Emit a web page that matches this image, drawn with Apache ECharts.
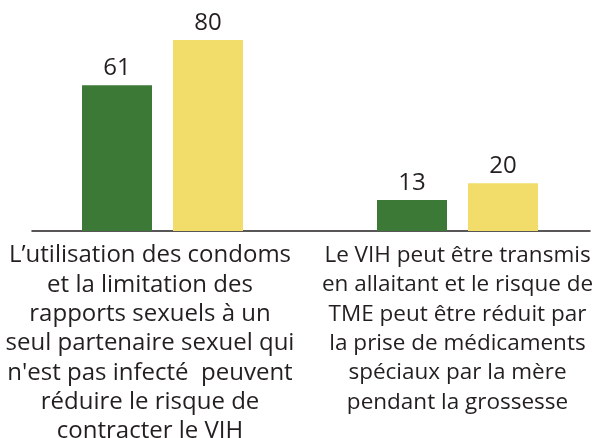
<!DOCTYPE html>
<html>
<head>
    <meta charset="utf-8">
    <title>VIH</title>
    <script src="https://cdn.jsdelivr.net/npm/echarts@6/dist/echarts.min.js"></script>
    <style>
        html, body {margin: 0; padding: 0; background: #fff;}
    </style>
</head>
<body>
<div id="main" style="width: 613px;height:438px;"></div>

<script>
    // categories (axis labels, already wrapped like the original)
    var categories = [
        "L\u2019utilisation des condoms\net la limitation des\nrapports sexuels à un\nseul partenaire sexuel qui\nn'est pas infecté  peuvent\nréduire le risque de\ncontracter le VIH",
        "Le VIH peut être transmis\nen allaitant et le risque de\nTME peut être réduit par\nla prise de médicaments\nspéciaux par la mère\npendant la grossesse"
    ];
    var greenValues = [61, 13];
    var yellowValues = [80, 20];

    var myChart = echarts.init(document.getElementById('main'));

    var labelFont = {
        show: true,
        position: 'top',
        distance: 5,
        color: '#231f20',
        fontFamily: 'Open Sans',
        fontSize: 24
    };

    // first label sits a little left of its bars in the original,
    // the second one is set a bit tighter
    var axisData = [
        {value: categories[0], textStyle: {padding: [0, 25, 0, 0]}},
        {value: categories[1], textStyle: {fontSize: 22.5}}
    ];

    var option = {
        animation: false,
        grid: [
            // bars
            {left: 15, right: 8, top: 40, bottom: 207, outerBoundsMode: 'none', containLabel: false},
            // only the baseline
            {left: 32, right: 23, top: 40, bottom: 207, outerBoundsMode: 'none', containLabel: false}
        ],
        xAxis: [
            {
                type: 'category',
                gridIndex: 0,
                data: axisData,
                axisLine: {show: false},
                axisTick: {show: false},
                axisLabel: {
                    interval: 0,
                    margin: 10,
                    color: '#231f20',
                    fontFamily: 'Open Sans',
                    fontSize: 24,
                    lineHeight: 29.3
                }
            },
            {
                type: 'category',
                gridIndex: 1,
                data: ['', ''],
                axisLine: {show: true, lineStyle: {color: '#231f20', width: 1.5}},
                axisTick: {show: false},
                axisLabel: {show: false}
            }
        ],
        yAxis: [
            {type: 'value', gridIndex: 0, min: 0, max: 80, show: false},
            {type: 'value', gridIndex: 1, min: 0, max: 80, show: false}
        ],
        series: [
            {
                type: 'bar',
                data: greenValues,
                barWidth: 70,
                barGap: '30%',
                itemStyle: {color: '#3d7936'},
                label: labelFont
            },
            {
                type: 'bar',
                data: yellowValues,
                barWidth: 70,
                barGap: '30%',
                itemStyle: {color: '#f2dc6a'},
                label: labelFont
            }
        ]
    };

    myChart.setOption(option);
</script>
</body>
</html>
